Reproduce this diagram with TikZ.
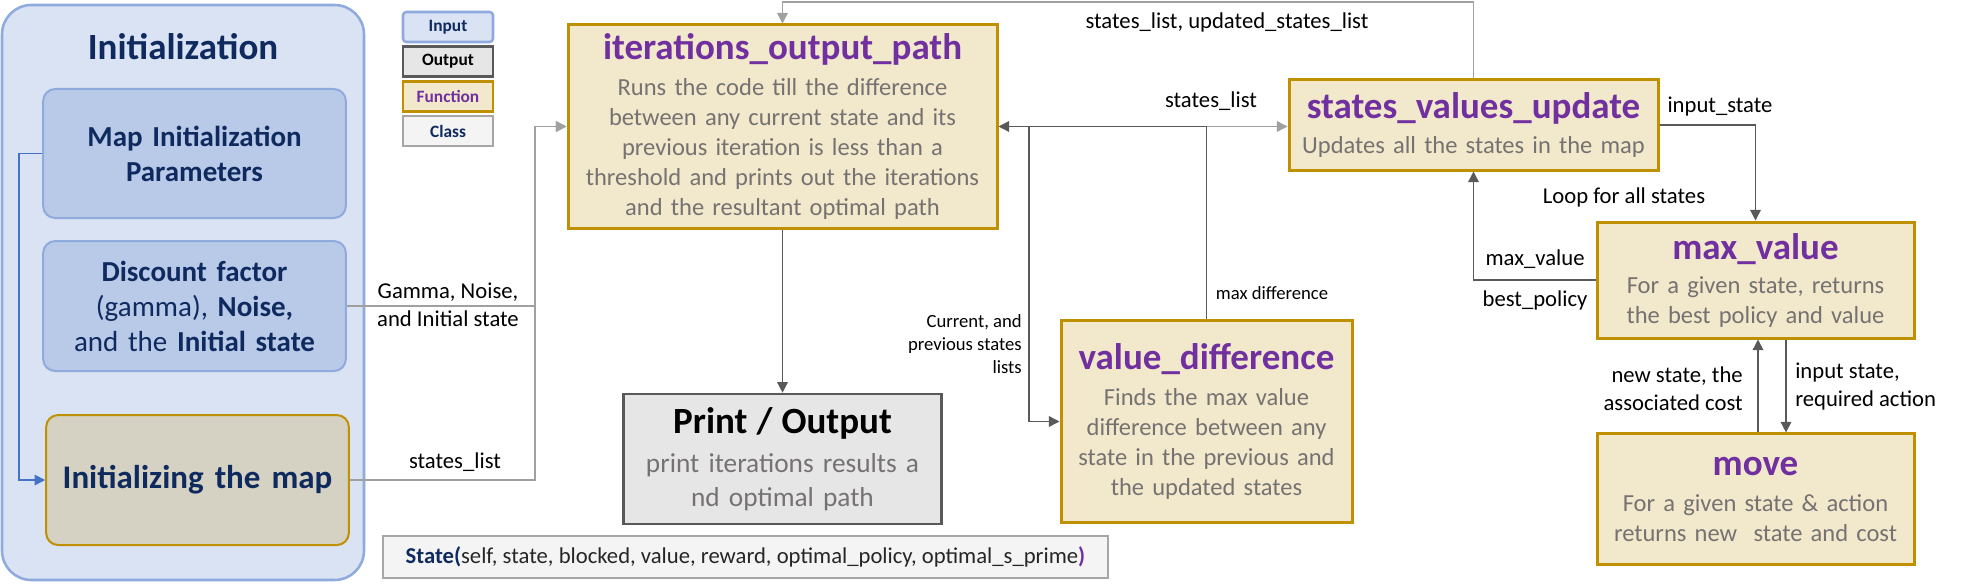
\documentclass[tikz,border=0pt]{standalone}
\usepackage{fontspec}
\setmainfont{Carlito}
\usepackage{xcolor}
\usepackage{tikz}
\usetikzlibrary{shapes, arrows.meta, calc}

\definecolor{groupfill}{HTML}{DAE3F3}
\definecolor{groupedge}{HTML}{8FAADC}
\definecolor{paramfill}{HTML}{B9C9E8}
\definecolor{navytext}{HTML}{0E2A5E}
\definecolor{mapfill}{HTML}{D5D2C3}
\definecolor{funcfill}{HTML}{F2E8CB}
\definecolor{funcedge}{HTML}{BF9000}
\definecolor{fpurple}{HTML}{7030A0}
\definecolor{bodygrey}{HTML}{767272}
\definecolor{printfill}{HTML}{E6E6E6}
\definecolor{printedge}{HTML}{595959}
\definecolor{classfill}{HTML}{F4F4F4}
\definecolor{classedge}{HTML}{A6A6A6}
\definecolor{darkwire}{HTML}{595959}
\definecolor{palewire}{HTML}{A0A0A0}
\definecolor{bluewire}{HTML}{4472C4}

\newcommand{\fname}[1]{{\color{fpurple}\bfseries\fontsize{27.75}{33}\selectfont #1}}
\newcommand{\pname}[1]{{\color{black}\bfseries\fontsize{27.75}{33}\selectfont #1}}

\tikzstyle{groupbox} = [rectangle, draw=groupedge, line width=1.9pt, fill=groupfill,
    rounded corners=22pt]
\tikzstyle{grouptitle} = [text=navytext, font=\bfseries\fontsize{27.75}{33}\selectfont]
\tikzstyle{parambox} = [rectangle, draw=groupedge, line width=1.5pt, fill=paramfill,
    rounded corners=9pt, text=navytext, text width=220pt, text centered,
    minimum width=227pt, minimum height=96.75pt, font=\fontsize{21.75}{26.25}\selectfont]
\tikzstyle{mapbox} = [parambox, draw=funcedge, fill=mapfill, minimum height=97.5pt,
    font=\bfseries\fontsize{24.75}{30}\selectfont]
\tikzstyle{funcbox} = [rectangle, draw=funcedge, line width=2.25pt, fill=funcfill,
    text=bodygrey, text centered, inner sep=2pt, font=\fontsize{18.4}{22.5}\selectfont]
\tikzstyle{printbox} = [rectangle, draw=printedge, line width=2pt, fill=printfill,
    text=bodygrey, text centered, inner sep=2pt, font=\fontsize{20.5}{25.5}\selectfont]
\tikzstyle{classbox} = [rectangle, draw=classedge, line width=1.6pt, fill=classfill,
    text=black!85, minimum width=543.75pt, minimum height=31.5pt, font=\fontsize{17}{20}\selectfont]
\tikzstyle{keybox} = [rectangle, draw, line width=1.9pt, minimum width=67.5pt,
    minimum height=22.5pt, font=\bfseries\fontsize{13}{15}\selectfont]
\tikzstyle{line} = [draw=darkwire, line width=1.1pt, -{Triangle[length=8pt, width=8pt]}]
\tikzstyle{paleline} = [line, draw=palewire]
\tikzstyle{blueline} = [line, draw=bluewire]
\tikzstyle{lbl} = [inner sep=0pt, font=\fontsize{17}{21}\selectfont]
\tikzstyle{smalllbl} = [inner sep=0pt, font=\fontsize{14}{17}\selectfont]

\begin{document}
\begin{tikzpicture}[x=0.75pt, y=-0.75pt, node distance=26pt]
    \useasboundingbox (0,0) rectangle (1984,585);
    % Nodes
    \node [groupbox, minimum width=271.5pt, minimum height=431.25pt] (init) at (183,292.5) {};
    \node [grouptitle] (inittitle) at (183,47) {Initialization};
    \node [parambox, font=\bfseries\fontsize{21.75}{26.25}\selectfont] (mapparams) at (194.5,153.5) {Map Initialization\\Parameters};
    \node [parambox, below of=mapparams, node distance=114.4pt, minimum height=97.5pt] (discount) {\textbf{Discount factor}\\(gamma), \textbf{Noise,}\\and the \textbf{Initial state}};
    \node [mapbox, below of=discount, node distance=130.5pt, xshift=2.25pt] (initmap) {Initializing the map};

    \node [keybox, draw=groupedge, fill=groupfill, text=navytext, rounded corners=2.5pt] (inputkey) at (448,27) {Input};
    \node [keybox, draw=printedge, fill=printfill, text=black, below of=inputkey] (outputkey) {Output};
    \node [keybox, draw=funcedge, fill=funcfill, text=fpurple, below of=outputkey] (functionkey) {Function};
    \node [keybox, draw=classedge, fill=classfill, text=navytext, below of=functionkey] (classkey) {Class};

    \node [funcbox, minimum width=321.75pt, minimum height=152.25pt, text width=316pt] (iter) at (782.5,126.5) {\fname{iterations\_output\_path}\\[5pt] Runs the code till the difference\\ between any current state and its\\ previous iteration is less than a\\ threshold and prints out the iterations\\ and the resultant optimal path};
    \node [printbox, below of=iter, node distance=249.4pt, minimum width=238.5pt, minimum height=97.5pt, text width=232pt] (print) {\pname{Print / Output}\\[4pt] print iterations results a\\ nd optimal path};
    \node [classbox] (stateclass) at (745.5,557) {\textbf{\color{navytext}State(}self, state, blocked, value, reward, optimal\_policy, optimal\_s\_prime\textbf{\color{fpurple})}};

    \node [funcbox, minimum width=276.75pt, minimum height=67.5pt, text width=270pt] (svu) at (1473.5,125) {\fname{states\_values\_update}\\[4pt] Updates all the states in the map};
    \node [funcbox, minimum width=218.25pt, minimum height=151.5pt, text width=212pt] (vdiff) at (1206.5,421.5) {\fname{value\_difference}\\[5pt] Finds the max value\\ difference between any\\ state in the previous and\\ the updated states};
    \node [funcbox, minimum width=237.75pt, minimum height=87pt, text width=232pt] (maxval) at (1755.5,280) {\fname{max\_value}\\[3pt] For a given state, returns\\ the best policy and value};
    \node [funcbox, below of=maxval, node distance=164.6pt, minimum width=237.75pt, minimum height=98.25pt, text width=232pt] (move) {\fname{move}\\[4pt] For a given state \& action\\ returns new\ \ state and cost};

    \coordinate (jin) at (535,126.5);
    \coordinate (jtop) at (782.5,2);
    \coordinate (jcur) at (1029,126.5);

    % Edges
    \path [blueline] (mapparams.west) -- ++(-23,0) |- (initmap.west);
    \path [paleline] (discount.east) -| (jin) -- (iter.west);
    \path [paleline] (initmap.east) -| (jin) -- (iter.west);
    \path [line] (iter.south) -- (print.north);
    \path [paleline] (svu.north) |- (jtop) -- (iter.north);
    \path [paleline] (iter.east) -- (iter.east -| svu.west);
    \path [line] (vdiff.north) |- (iter.east);
    \path [line] (jcur) |- (vdiff.west);
    \path [line] (svu.east) -| (maxval.north);
    \path [line] (maxval.west) -| (svu.south);
    \path [line] ($(move.north)+(2.5,0)$) -- ($(maxval.south)+(2.5,0)$);
    \path [line] ($(maxval.south)+(30.5,0)$) -- ($(move.north)+(30.5,0)$);

    % Labels
    \node [lbl, align=center] (gammalbl) at (448,305) {Gamma, Noise,\\and Initial state};
    \node [lbl] (initlistlbl) at (455,462) {states\_list};
    \node [lbl] (looplbl) at (1227,22) {states\_list, updated\_states\_list};
    \node [lbl] (svulistlbl) at (1211,101) {states\_list};
    \node [smalllbl] (difflbl) at (1272,293) {max difference};
    \node [smalllbl, align=right, anchor=east] (curlbl) at (1022,344) {Current, and\\previous states\\lists};
    \node [lbl] (inputlbl) at (1720,107) {input\_state};
    \node [lbl] (looptext) at (1624,197) {Loop for all states};
    \node [lbl] (maxlbl) at (1535,259) {max\_value};
    \node [lbl] (policylbl) at (1535,300) {best\_policy};
    \node [lbl, align=right, anchor=east] (costlbl) at (1743,389) {new state, the\\associated cost};
    \node [lbl, align=left, anchor=west] (actionlbl) at (1795,387) {input state,\\required action};
\end{tikzpicture}
\end{document}
